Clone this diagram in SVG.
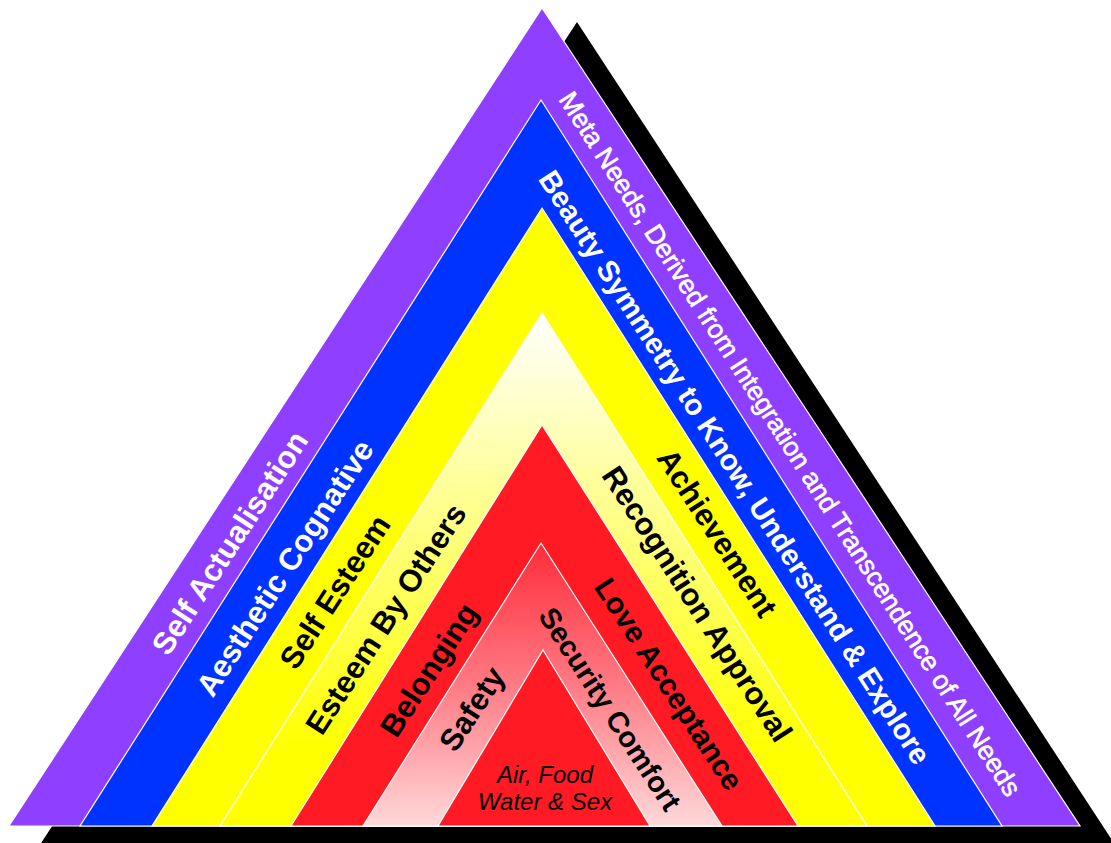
<svg xmlns="http://www.w3.org/2000/svg" width="1111" height="843" viewBox="0 0 1111 843">
<defs>
<linearGradient id="gLy" gradientUnits="userSpaceOnUse" x1="0" y1="313" x2="0" y2="826">
<stop offset="0" stop-color="#FFFFFF"/>
<stop offset="0.85" stop-color="#FFFF00"/>
</linearGradient>
<linearGradient id="gPink" gradientUnits="userSpaceOnUse" x1="0" y1="543" x2="0" y2="826">
<stop offset="0" stop-color="#FF2C3A"/>
<stop offset="0.5" stop-color="#FF7A84"/>
<stop offset="1" stop-color="#FFD8D8"/>
</linearGradient>
<style>
.band{stroke:#FFFFFF;stroke-width:1.2;stroke-linejoin:miter}
.t{font-family:"Liberation Sans",Arial,sans-serif;font-weight:bold;font-size:31px;text-anchor:middle;dominant-baseline:central}
.w{fill:#FFFFFF}
.k{fill:#000000}
.reg{font-weight:normal;stroke:#FFFFFF;stroke-width:0.6}
.it{font-family:"Liberation Sans",Arial,sans-serif;font-style:italic;font-size:24px;text-anchor:middle;fill:#000000}
</style>
</defs>
<rect width="1111" height="843" fill="#FFFFFF"/>
<polygon id="shadow" points="577,22 1125,860 30,860" fill="#000000"/>
<g id="self-actualisation">
<polygon class="band" points="542,8 1080,826 9,826" fill="#8F3FFF"/>
</g>
<g id="aesthetic-cognative">
<polygon class="band" points="541,100 1002,826 80,826" fill="#0033FF"/>
</g>
<g id="self-esteem">
<polygon class="band" points="542,208 935,826 152,826" fill="#FFFF00"/>
</g>
<g id="esteem-by-others">
<polygon class="band" points="542,313 867,826 220,826" fill="url(#gLy)"/>
</g>
<g id="belonging">
<polygon class="band" points="542,425 798,826 291,826" fill="#FF1A24"/>
</g>
<g id="safety">
<polygon class="band" points="541,543 722,826 363,826" fill="url(#gPink)"/>
</g>
<g id="physiological">
<polygon class="band" points="543,650 650,826 438,826" fill="#FF1A24"/>
</g>
<g id="labels">
<text class="t w" transform="translate(230,543) rotate(-57)">Self Actualisation</text>
<text class="t w" transform="translate(285,568) rotate(-57)">Aesthetic Cognative</text>
<text class="t k" transform="translate(335,592) rotate(-57)">Self Esteem</text>
<text class="t k" transform="translate(386,619) rotate(-57)">Esteem By Others</text>
<text class="t k" transform="translate(429,670) rotate(-57)">Belonging</text>
<text class="t k" transform="translate(472,709) rotate(-57)">Safety</text>
<text class="t w reg" style="font-size:26.5px" transform="translate(790,444) rotate(57.3)">Meta Needs, Derived from Integration and Transcendence of All Needs</text>
<text class="t w" style="font-size:29.5px" transform="translate(735,467) rotate(57.3)">Beauty Symmetry to Know, Understand &amp; Explore</text>
<text class="t k" transform="translate(717,533) rotate(57)">Achievement</text>
<text class="t k" transform="translate(697,604) rotate(57)">Recognition Approval</text>
<text class="t k" style="font-size:30px" transform="translate(669,684) rotate(57)">Love Acceptance</text>
<text class="t k" style="font-size:29px" transform="translate(610,709) rotate(57)">Security Comfort</text>
<text class="it" x="545" y="783">Air, Food</text>
<text class="it" x="545" y="810">Water &amp; Sex</text>
</g>
</svg>
